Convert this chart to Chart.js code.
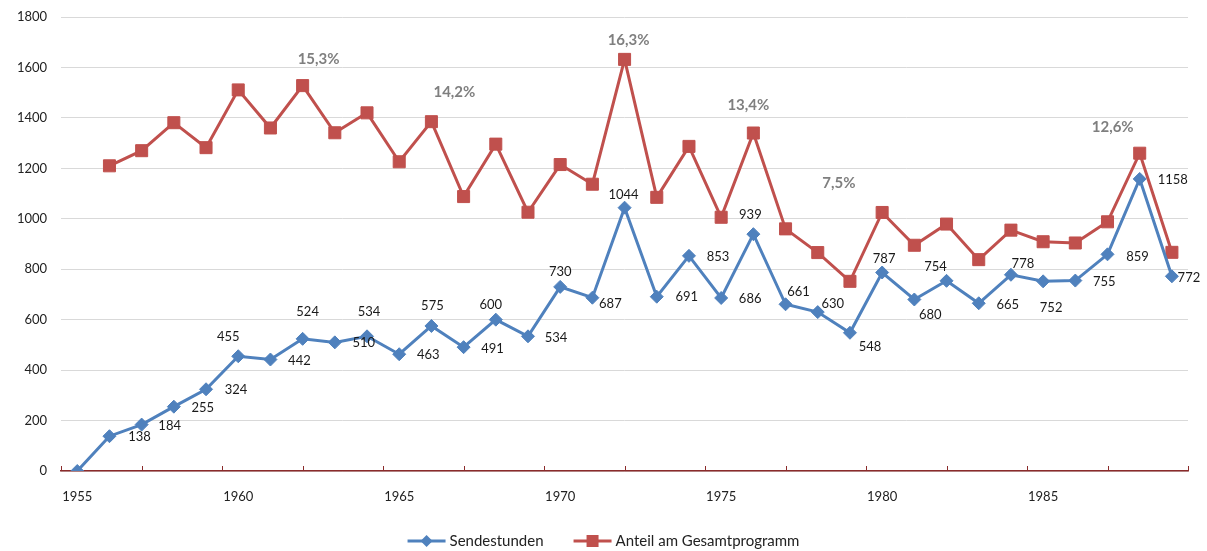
<html>
<head>
<script src="https://cdn.jsdelivr.net/npm/chart.js"></script>
<style>
  body { margin: 0; background: #fff; }
  #wrap { width: 1207px; height: 551px; }
</style>
</head>
<body>
<div id="wrap"><canvas id="lineChart"></canvas></div>
<script>
// data
const years = [1955,1956,1957,1958,1959,1960,1961,1962,1963,1964,1965,1966,1967,1968,1969,1970,1971,1972,1973,1974,1975,1976,1977,1978,1979,1980,1981,1982,1983,1984,1985,1986,1987,1988,1989];
const sendestunden = [0,138,184,255,324,455,442,524,510,534,463,575,491,600,534,730,687,1044,691,853,686,939,661,630,548,787,680,754,665,778,752,755,859,1158,772];
const anteil = [null,1210,1270,1381,1282,1511,1360,1528,1341,1420,1226,1385,1088,1296,1026,1215,1137,1632,1085,1287,1006,1340,960,866,752,1025,895,979,838,955,909,904,988,1260,867];
const pctYears = [1962,1966,1972,1976,1979,1988];
const pctText = ['15,3%','14,2%','16,3%','13,4%','7,5%','12,6%'];
const yTicks = [0,200,400,600,800,1000,1200,1400,1600,1800];
const seriesNames = ['Sendestunden', 'Anteil am Gesamtprogramm'];

// where each label sits relative to its point (dx, dy)
const valueOffsets = [null,[30,1],[28,1],[29,1],[30,1],[-10,-19],[29,1],[5,-27],[29,0],[2,-25],[29,1],[1,-20],[29,2],[-5,-15],[28,1],[0,-15],[18,6],[-1,-13],[30,0],[29,1],[29,1],[-3,-19],[13,-12],[15,-8],[20,14],[2,-14],[16,15],[-11,-14],[29,2],[12,-11],[8,26],[29,1],[30,2],[33,1],[17,2]];
const pctOffsets = [[16,-26],[23,-30],[4,-19],[-5,-28],[-11,-98],[-27,-26]];

const BLUE = '#4F81BD';
const RED = '#C0504D';
const AXIS = '#8B2B2B';
const FONT = 'Lato, "Open Sans", sans-serif';

const labelPlugin = {
    id: 'labels',
    afterDraw(chart) {
        const ctx = chart.ctx;
        const x = chart.scales.x;
        const area = chart.chartArea;
        // tick marks on the category axis, every 2.5 years
        ctx.save();
        ctx.strokeStyle = AXIS;
        ctx.lineWidth = 1;
        for (let k = 0; k <= 14; k++) {
            const px = Math.round(x.getPixelForValue(-0.5 + 2.5 * k)) + 0.5;
            ctx.beginPath();
            ctx.moveTo(px, area.bottom);
            ctx.lineTo(px, area.bottom - 5);
            ctx.stroke();
        }
        ctx.restore();

        ctx.save();
        ctx.textAlign = 'center';
        ctx.textBaseline = 'middle';
        // value labels of Sendestunden
        ctx.font = '13px ' + FONT;
        ctx.fillStyle = '#1a1a1a';
        const blue = chart.getDatasetMeta(0).data;
        sendestunden.forEach((v, i) => {
            const off = valueOffsets[i];
            if (!off) return;
            ctx.fillText(String(v), blue[i].x + off[0], blue[i].y + off[1]);
        });
        // percentages above the red line
        ctx.font = 'bold 15px ' + FONT;
        ctx.fillStyle = '#7F7F7F';
        const red = chart.getDatasetMeta(1).data;
        pctYears.forEach((yr, j) => {
            const i = years.indexOf(yr);
            const off = pctOffsets[j];
            ctx.fillText(pctText[j], red[i].x + off[0], red[i].y + off[1]);
        });
        ctx.restore();

        // legend: line + marker, then the name
        ctx.save();
        ctx.font = '15px ' + FONT;
        ctx.textBaseline = 'middle';
        ctx.textAlign = 'left';
        const iconW = 38, gap = 4, spacing = 30;
        const w0 = ctx.measureText(seriesNames[0]).width;
        const w1 = ctx.measureText(seriesNames[1]).width;
        const total = iconW + gap + w0 + spacing + iconW + gap + w1;
        let lx = (chart.width - total) / 2;
        const ly = chart.height - 10;
        [BLUE, RED].forEach((col, j) => {
            ctx.strokeStyle = col; ctx.fillStyle = col; ctx.lineWidth = 3;
            ctx.beginPath(); ctx.moveTo(lx, ly); ctx.lineTo(lx + iconW, ly); ctx.stroke();
            const cx = lx + iconW / 2;
            ctx.beginPath();
            if (j === 0) {
                ctx.moveTo(cx, ly - 6); ctx.lineTo(cx + 6, ly); ctx.lineTo(cx, ly + 6); ctx.lineTo(cx - 6, ly);
            } else {
                ctx.rect(cx - 6, ly - 6, 12, 12);
            }
            ctx.fill();
            ctx.fillStyle = '#222';
            ctx.fillText(seriesNames[j], lx + iconW + gap, ly);
            lx += iconW + gap + (j === 0 ? w0 : w1) + spacing;
        });
        ctx.restore();
    }
};

const ctx = document.getElementById('lineChart').getContext('2d');
new Chart(ctx, {
    type: 'line',
    data: {
        labels: years,
        datasets: [{
            label: seriesNames[0],
            data: sendestunden,
            borderColor: BLUE,
            backgroundColor: BLUE,
            borderWidth: 3,
            pointStyle: 'rectRot',
            pointRadius: 6.5,
            pointBorderWidth: 1,
            pointBackgroundColor: BLUE,
            pointBorderColor: BLUE,
            tension: 0
        }, {
            label: seriesNames[1],
            data: anteil,
            borderColor: RED,
            backgroundColor: RED,
            borderWidth: 3,
            pointStyle: 'rect',
            pointRadius: 8.5,
            pointBorderWidth: 1,
            pointBackgroundColor: RED,
            pointBorderColor: RED,
            tension: 0
        }]
    },
    options: {
        responsive: true,
        maintainAspectRatio: false,
        animation: false,
        layout: { padding: { left: 3, right: 19, top: 17, bottom: 0 } },
        plugins: {
            tooltip: { enabled: false },
            legend: { display: false }
        },
        scales: {
            x: {
                type: 'category',
                offset: true,
                grid: { display: false, drawTicks: false },
                border: { display: true, color: AXIS, width: 1.5 },
                afterFit: (scale) => { scale.height = 80; },
                ticks: {
                    autoSkip: false,
                    maxRotation: 0,
                    padding: 18,
                    color: '#222',
                    font: { family: FONT, size: 13 },
                    callback: (v, i) => years[i] % 5 === 0 ? String(years[i]) : ''
                }
            },
            y: {
                min: 0,
                max: 1800,
                afterBuildTicks: (scale) => { scale.ticks = yTicks.map(v => ({ value: v })); },
                afterFit: (scale) => { scale.paddingTop = 8; scale.paddingBottom = 8; },
                grid: { color: '#D9D9D9', lineWidth: 1, drawTicks: false },
                border: { display: false },
                ticks: {
                    padding: 14,
                    color: '#222',
                    font: { family: FONT, size: 13 },
                    callback: (v) => String(v)
                }
            }
        }
    },
    plugins: [labelPlugin]
});
</script>
</body>
</html>
